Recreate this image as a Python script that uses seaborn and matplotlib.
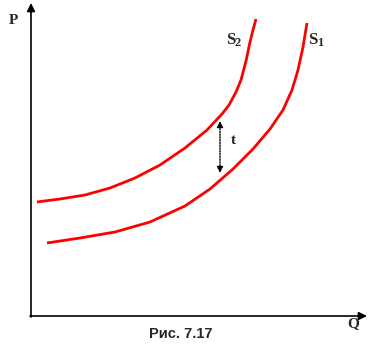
import matplotlib
matplotlib.use("Agg")
import matplotlib.pyplot as plt
import seaborn as sns
import pandas as pd

sns.set_theme(style="white")
plt.rcParams['font.family'] = ['Liberation Serif', 'DejaVu Sans']

# Supply curves (pixel-like coordinates: x to the right, y downward)
s2_x = [37, 60, 85, 110, 135, 160, 185, 207, 222, 229, 236, 241, 246, 250, 253, 256]
s2_y = [202, 199, 195, 188, 178, 165, 148, 130, 114, 105, 92, 80, 61, 42, 30, 19]
s1_x = [47, 80, 115, 150, 185, 210, 233, 253, 270, 283, 292, 298, 303, 307]
s1_y = [243, 238, 232, 222, 206, 189, 169, 149, 129, 110, 90, 70, 47, 23]

curve_labels = ["S", "S"]
curve_subs = ["2", "1"]
axis_labels = ["P", "Q"]
caption = "Рис. 7.17"
shift_label = "t"

df = pd.concat([
    pd.DataFrame({"x": s2_x, "y": s2_y, "curve": "S2"}),
    pd.DataFrame({"x": s1_x, "y": s1_y, "curve": "S1"}),
])

fig = plt.figure(figsize=(3.74, 3.58), dpi=100)
ax = fig.add_axes([0, 0, 1, 1])
ax.set_xlim(0, 374)
ax.set_ylim(358, 0)
ax.axis("off")

sns.lineplot(data=df, x="x", y="y", units="curve", estimator=None, sort=False,
             color="#ff0000", linewidth=2.0, ax=ax, legend=False,
             solid_joinstyle="round", solid_capstyle="butt")

# axes with arrows
ax.annotate("", xy=(31, 3), xytext=(31, 317),
            arrowprops=dict(arrowstyle="-|>", color="black", lw=1.2,
                            mutation_scale=12, shrinkA=0, shrinkB=0))
ax.annotate("", xy=(367, 316), xytext=(30, 316),
            arrowprops=dict(arrowstyle="-|>", color="black", lw=1.2,
                            mutation_scale=12, shrinkA=0, shrinkB=0))

# shift arrow
ax.annotate("", xy=(220, 121), xytext=(220, 173),
            arrowprops=dict(arrowstyle="<|-|>", color="black", lw=1.0, ls=(0, (1, 1)),
                            mutation_scale=9, shrinkA=0, shrinkB=0))
ax.text(233, 140, shift_label, fontsize=11, fontweight="bold", ha="center", va="center")

ax.text(13, 20, axis_labels[0], fontsize=11, fontweight="bold", ha="center", va="center")
ax.text(353, 324, axis_labels[1], fontsize=11, fontweight="bold", ha="center", va="center")

ax.text(235, 40, curve_labels[0], fontsize=12, fontweight="bold", ha="right", va="center")
ax.text(235, 43, curve_subs[0], fontsize=9, fontweight="bold", ha="left", va="center")
ax.text(317, 40, curve_labels[1], fontsize=12, fontweight="bold", ha="right", va="center")
ax.text(317, 43, curve_subs[1], fontsize=9, fontweight="bold", ha="left", va="center")

ax.text(181, 334, caption, fontsize=10.5, fontweight="bold", ha="center", va="center",
        family=["Liberation Sans", "DejaVu Sans"])

fig.savefig("out.png", dpi=100)
